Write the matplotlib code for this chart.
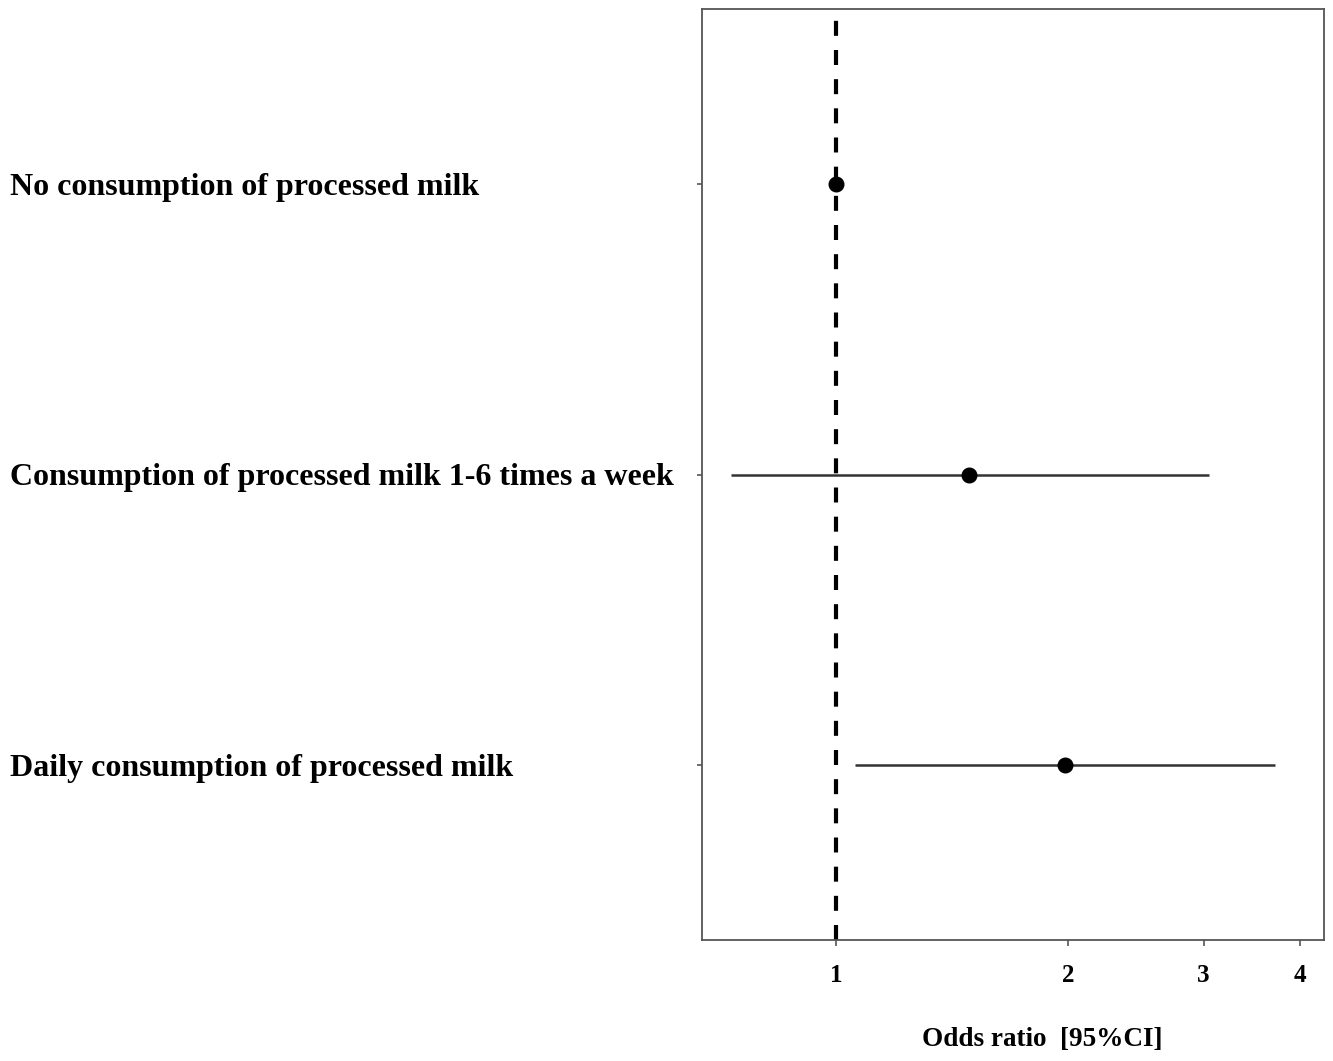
import matplotlib
matplotlib.use("Agg")
import matplotlib.pyplot as plt
from matplotlib.ticker import FixedLocator, FixedFormatter, NullLocator

# Odds ratios with 95% confidence intervals
categories = [
    "No consumption of processed milk",
    "Consumption of processed milk 1-6 times a week",
    "Daily consumption of processed milk",
]
odds_ratio = [1.00, 1.49, 1.98]
ci_lower = [1.00, 0.73, 1.06]
ci_upper = [1.00, 3.05, 3.71]
xticks = [1, 2, 3, 4]
xtick_labels = ["1", "2", "3", "4"]
x_title = "Odds ratio  [95%CI]"

plt.rcParams["font.family"] = ["Liberation Serif", "DejaVu Serif"]
plt.rcParams["font.weight"] = "bold"

W, H = 1333, 1061
fig = plt.figure(figsize=(W / 100, H / 100), dpi=100)
ax = fig.add_axes([702 / W, (H - 940) / H, (1324 - 702) / W, (940 - 9) / H])

ypos = list(range(1, len(categories) + 1))

# reference line at OR = 1
ax.axvline(1.0, color="black", lw=3.0, dashes=(3.6, 3.4), zorder=1)

for y, o, lo, hi in zip(ypos, odds_ratio, ci_lower, ci_upper):
    if hi > lo:
        ax.plot([lo, hi], [y, y], color="#333333", lw=1.8,
                solid_capstyle="butt", zorder=2)
    ax.plot([o], [y], marker="o", ms=10.5, color="black", zorder=3)

ax.set_xscale("log")
ax.set_xlim(0.67, 4.30)
ax.set_ylim(3.6, 0.4)

ax.xaxis.set_major_locator(FixedLocator(xticks))
ax.xaxis.set_major_formatter(FixedFormatter(xtick_labels))
ax.xaxis.set_minor_locator(NullLocator())
ax.tick_params(axis="x", length=4, width=1.2, color="#555555", pad=13,
               labelsize=18)
for t in ax.get_xticklabels():
    t.set_fontweight("bold")

ax.set_yticks(ypos)
ax.set_yticklabels(categories, fontsize=23, fontweight="bold", ha="left")
ax.tick_params(axis="y", length=3.5, width=1.2, color="#555555",
               pad=(702 - 5 - 10) * 0.72)

for s in ax.spines.values():
    s.set_color("#555555")
    s.set_linewidth(1.3)

# x-axis title, placed in figure pixels
fig.text(1042 / W, (H - 1040) / H, x_title, fontsize=19.5,
         fontweight="bold", ha="center", va="center")

fig.savefig("out.png", dpi=100, facecolor="white")
